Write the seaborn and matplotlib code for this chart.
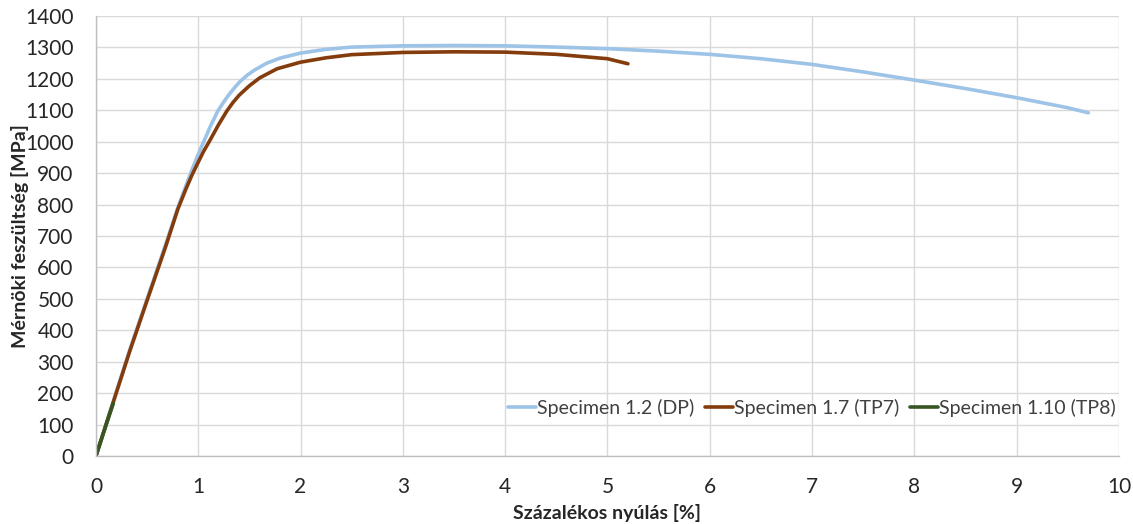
import numpy as np
import pandas as pd
import matplotlib
matplotlib.use("Agg")
import matplotlib.pyplot as plt
import seaborn as sns

# Data
dp_x = [0, 0.17, 0.33, 0.5, 0.68, 0.8, 0.88, 0.94, 1.0, 1.06, 1.12, 1.19, 1.25, 1.3, 1.36, 1.41, 1.48,
        1.55, 1.67, 1.8, 2.0, 2.25, 2.5, 3.0, 3.5, 4.0,
        4.5, 5.0, 5.5, 6.0, 6.5, 7.0, 7.5, 8.0, 8.5, 9.0, 9.5, 9.7]
dp_y = [0, 175, 338, 500, 672, 790, 860, 912, 960, 1005, 1050, 1097, 1127, 1150, 1174, 1192, 1212,
        1228, 1250, 1266, 1282, 1294, 1301, 1305, 1306, 1305,
        1301, 1296, 1288, 1278, 1264, 1246, 1222, 1196, 1169, 1140, 1108, 1092]
tp7_x = [0, 0.17, 0.33, 0.5, 0.68, 0.8, 0.88, 0.94, 1.0, 1.05, 1.11, 1.2, 1.28, 1.34, 1.4, 1.5,
         1.6, 1.77, 2.0, 2.25, 2.5, 3.0, 3.5, 4.0, 4.5, 5.0, 5.2]
tp7_y = [0, 172, 333, 495, 665, 785, 850, 895, 935, 968, 1002, 1055, 1098, 1125, 1148, 1178,
         1203, 1232, 1253, 1267, 1277, 1284, 1286, 1285, 1278, 1264, 1248]
tp8_x = [0, 0.1, 0.17]
tp8_y = [0, 100, 168]

labels = ["Specimen 1.2 (DP)", "Specimen 1.7 (TP7)", "Specimen 1.10 (TP8)"]
colors = ["#9DC3E6", "#843C0C", "#375623"]

frames = []
for lab, xs, ys in zip(labels, [dp_x, tp7_x, tp8_x], [dp_y, tp7_y, tp8_y]):
    frames.append(pd.DataFrame({"x": xs, "y": ys, "series": lab}))
df = pd.concat(frames, ignore_index=True)

sns.set_theme(style="white")
plt.rcParams["font.family"] = ["Lato", "DejaVu Sans"]

fig = plt.figure(figsize=(11.33, 5.24), dpi=100)
ax = fig.add_axes([0.0847, 0.1298, 0.9029, 0.8397])

sns.lineplot(data=df, x="x", y="y", hue="series", palette=dict(zip(labels, colors)),
             sort=False, estimator=None, linewidth=2.6, ax=ax)
for ln in ax.get_lines():
    ln.set_solid_capstyle("round")
    ln.set_solid_joinstyle("round")

ax.set_xlim(0, 10)
ax.set_ylim(0, 1400)
ax.set_xticks(np.arange(0, 11, 1))
ax.set_yticks(np.arange(0, 1401, 100))
ax.tick_params(axis="y", labelsize=15, length=0, pad=16)
ax.tick_params(axis="x", labelsize=15, length=0, pad=15)
for t in ax.get_xticklabels() + ax.get_yticklabels():
    t.set_color("#262626")
ax.grid(True, color="#D9D9D9", linewidth=1)
for s in ["top", "right"]:
    ax.spines[s].set_visible(False)
for s in ["left", "bottom"]:
    ax.spines[s].set_color("#BFBFBF")
    ax.spines[s].set_linewidth(1)

ax.set_xlabel("Százalékos nyúlás [%]", fontsize=14, fontweight="bold", color="#262626", va="center")
ax.set_ylabel("Mérnöki feszültség [MPa]", fontsize=14, fontweight="bold", color="#262626", va="center")
ax.xaxis.set_label_coords(0.5, -(513 - 456) / 440)
ax.yaxis.set_label_coords(-(96 - 20) / 1023, 0.5)

leg = ax.legend(loc="center", bbox_to_anchor=(0.70, 0.11), ncol=3, frameon=False,
                fontsize=14, handlelength=1.45, handletextpad=0.05, columnspacing=0.55)
for t in leg.get_texts():
    t.set_color("#404040")

fig.savefig("out.png", dpi=100)
